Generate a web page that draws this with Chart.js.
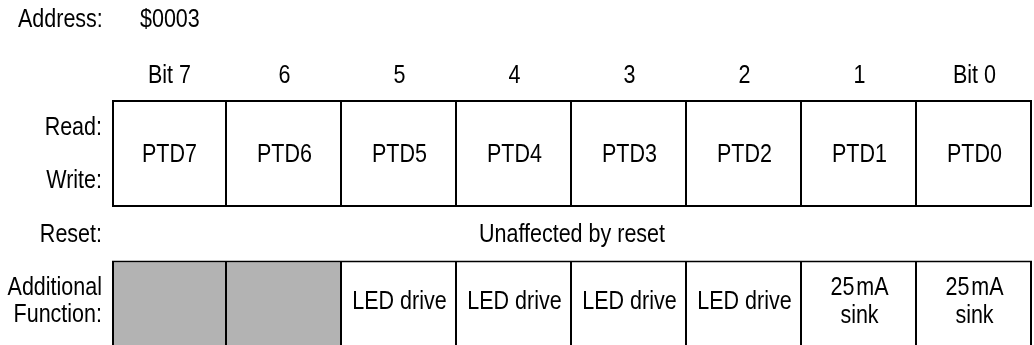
<!DOCTYPE html>
<html>
<head>
<meta charset="utf-8">
<script src="https://cdn.jsdelivr.net/npm/chart.js@4/dist/chart.umd.min.js"></script>
<style>
  html, body { margin: 0; padding: 0; background: #fff; }
  #wrap { width: 1034px; height: 345px; position: relative; }
</style>
</head>
<body>
<div id="wrap"><canvas id="regChart"></canvas></div>
<script>
// Register data
const address = "$0003";
const bits = ["Bit 7", "6", "5", "4", "3", "2", "1", "Bit 0"];
const registerNames = ["PTD7", "PTD6", "PTD5", "PTD4", "PTD3", "PTD2", "PTD1", "PTD0"];
const functionNames = ["", "", "LED drive", "LED drive", "LED drive", "LED drive", ["25\u200amA", "sink"], ["25\u200amA", "sink"]];
const unimplemented = [true, true, false, false, false, false, false, false];
const resetText = "Unaffected by reset";

// Rows on the value axis (Read + Write, Reset, Additional Function)
const registerRow = [0, 2];
const resetRow = 2.5;
const functionRow = [3, 5];
const rowLabels = ["Read:", "Write:", "Reset:", ["Additional", "Function:"]];
const rowLabelValues = [0.5, 1.5, 2.5, 3.75];

// condensed look: Liberation Sans squeezed horizontally
const FONT = '25px "Liberation Sans", Arial, sans-serif';
const NARROW = 0.86;
const TEXT = "#000";

// cell borders: shared edges drawn once
const cellBorder = (c) => ({ top: 2, bottom: 2, right: 2, left: c.dataIndex === 0 ? 2 : 0 });

function narrowText(ctx, text, x, y, align) {
  ctx.save();
  ctx.translate(x, y);
  ctx.scale(NARROW, 1);
  ctx.textAlign = align;
  ctx.fillText(text, 0, 0);
  ctx.restore();
}

// Labels and texts inside the cells
const cellText = {
  id: "cellText",
  afterDatasetsDraw(chart) {
    const { ctx, scales: { x, y }, chartArea } = chart;
    ctx.save();
    ctx.fillStyle = TEXT;
    ctx.font = FONT;
    ctx.textBaseline = "alphabetic";
    const base = 8; // half cap height

    narrowText(ctx, "Address:", 18, 27, "left");
    narrowText(ctx, address, 140, 27, "left");

    // bit numbers over the columns
    bits.forEach((b, i) => narrowText(ctx, b, x.getPixelForValue(i), 83, "center"));

    // row names on the left
    rowLabels.forEach((lab, k) => {
      const lines = Array.isArray(lab) ? lab : [lab];
      const mid = y.getPixelForValue(rowLabelValues[k]);
      lines.forEach((s, j) => {
        narrowText(ctx, s, chartArea.left - 10, mid + base + (j - (lines.length - 1) / 2) * 27, "right");
      });
    });

    const regMid = y.getPixelForValue((registerRow[0] + registerRow[1]) / 2);
    registerNames.forEach((t, i) => narrowText(ctx, t, x.getPixelForValue(i), regMid + base, "center"));

    narrowText(ctx, resetText, (chartArea.left + chartArea.right) / 2, y.getPixelForValue(resetRow) + base, "center");

    const fnMid = y.getPixelForValue(rowLabelValues[3]);
    functionNames.forEach((t, i) => {
      const lines = Array.isArray(t) ? t : [t];
      lines.forEach((s, j) => {
        narrowText(ctx, s, x.getPixelForValue(i), fnMid + base + (j - (lines.length - 1) / 2) * 28, "center");
      });
    });
    ctx.restore();
  }
};

const ctx = document.getElementById("regChart").getContext("2d");
new Chart(ctx, {
  type: "bar",
  data: {
    labels: bits,
    datasets: [
      {
        label: "Register",
        data: bits.map(() => registerRow),
        backgroundColor: "#fff",
        borderColor: "#000",
        borderWidth: cellBorder,
        borderSkipped: false,
        grouped: false,
        inflateAmount: 0,
        barPercentage: 1,
        categoryPercentage: 1,
      },
      {
        label: "Additional Function",
        data: bits.map(() => functionRow),
        backgroundColor: unimplemented.map((u) => (u ? "#b3b3b3" : "#fff")),
        borderColor: "#000",
        borderWidth: cellBorder,
        borderSkipped: false,
        grouped: false,
        inflateAmount: 0,
        barPercentage: 1,
        categoryPercentage: 1,
      },
    ],
  },
  options: {
    responsive: true,
    maintainAspectRatio: false,
    animation: false,
    events: [],
    layout: { padding: { top: 0, left: 0, right: 2, bottom: 0 } },
    plugins: { legend: { display: false }, tooltip: { enabled: false } },
    scales: {
      x: {
        position: "top",
        grid: { display: false, drawTicks: false },
        border: { display: false },
        ticks: { display: false },
        afterFit: (axis) => {
          axis.height = 100;
          axis.paddingLeft = axis.paddingRight = 0;
        },
      },
      y: {
        reverse: true,
        min: 0,
        max: 245 / 53.5,
        grid: { display: false, drawTicks: false },
        border: { display: false },
        ticks: { display: false },
        afterFit: (axis) => {
          axis.width = 112;
          axis.paddingTop = axis.paddingBottom = 0;
        },
      },
    },
  },
  plugins: [cellText],
});
</script>
</body>
</html>
